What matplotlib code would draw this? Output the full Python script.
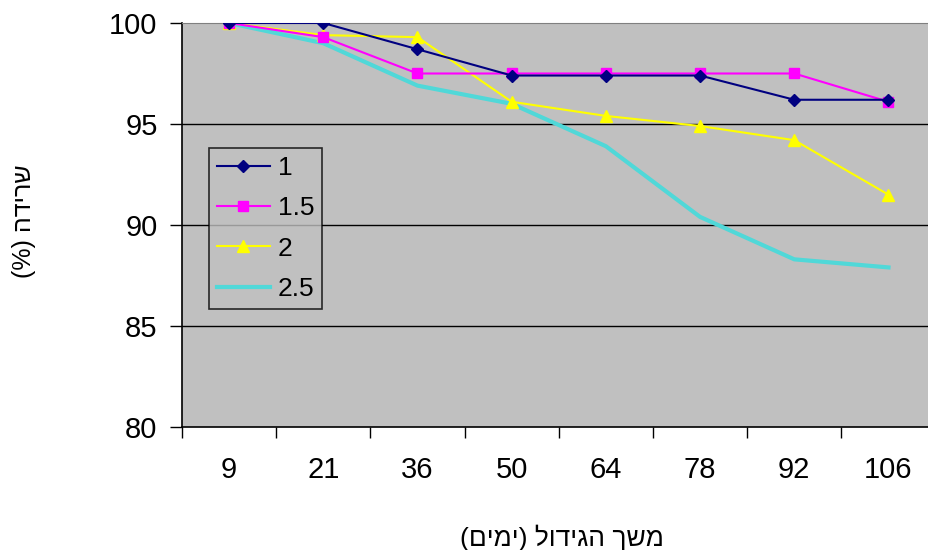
import matplotlib.pyplot as plt

plt.rcParams['font.family'] = ['Liberation Sans', 'DejaVu Sans']

# נתונים
days = ['9', '21', '36', '50', '64', '78', '92', '106']
s1 = [100, 100, 98.7, 97.4, 97.4, 97.4, 96.2, 96.2]
s15 = [100, 99.3, 97.5, 97.5, 97.5, 97.5, 97.5, 96.1]
s2 = [100, 99.4, 99.3, 96.1, 95.4, 94.9, 94.2, 91.5]
s25 = [100, 99.0, 96.9, 96.0, 93.9, 90.4, 88.3, 87.9]
series_names = ['1', '1.5', '2', '2.5']

xlabel = 'משך הגידול (ימים)'
ylabel = 'שרידה (%)'


def rtl(s):
    # matplotlib has no bidi support, so flip the string by hand
    out = s[::-1]
    return out.translate(str.maketrans('()', ')('))


fig = plt.figure(figsize=(9.29, 5.5), dpi=100)
ax = fig.add_axes([182 / 929, 1 - 427 / 550, 1 - 182 / 929, (427 - 23) / 550])
ax.set_facecolor('#C0C0C0')

x = list(range(len(days)))
ax.plot(x, s1, color='#000080', marker='D', ms=6, lw=1.5, label=series_names[0], zorder=5)
ax.plot(x, s15, color='#FF00FF', marker='s', ms=7, lw=1.5, label=series_names[1], zorder=4)
ax.plot(x, s2, color='#FFFF00', marker='^', ms=9, lw=1.5, label=series_names[2], zorder=3)
ax.plot(x, s25, color='#50D8D8', lw=3, label=series_names[3], zorder=2)

for v in [85, 90, 95]:
    ax.axhline(v, color='black', lw=1, zorder=1)

ax.set_ylim(80, 100)
ax.set_xlim(-0.5, 7.43)
ax.set_yticks([80, 85, 90, 95, 100])
ax.tick_params(axis='y', direction='out', length=8.6, width=1, pad=9, labelsize=21)

# tick marks between categories, labels at categories
ax.set_xticks([i - 0.5 for i in range(len(days))])
ax.set_xticklabels([])
ax.set_xticks(x, minor=True)
ax.set_xticklabels(days, minor=True, fontsize=21)
ax.tick_params(axis='x', which='major', direction='out', length=8, width=1)
ax.tick_params(axis='x', which='minor', length=0, pad=21)

ax.spines['top'].set_color('#808080')
ax.spines['right'].set_visible(False)
for s in ['left', 'bottom']:
    ax.spines[s].set_linewidth(1.2)

fig.text(562 / 929, 1 - 538 / 550, rtl(xlabel), ha='center', va='center', fontsize=19)
fig.text(24 / 929, 1 - 221 / 550, rtl(ylabel), ha='center', va='center', fontsize=18, rotation=90)

leg = ax.legend(loc='upper left', bbox_to_anchor=(27 / 747, (427 - 148) / 404),
                fontsize=19, frameon=True, fancybox=False, facecolor='#C0C0C0',
                edgecolor='black', handlelength=2.0, labelspacing=0.62,
                borderpad=0.3, handletextpad=0.3, borderaxespad=0)
leg.get_frame().set_linewidth(1.2)

fig.savefig('out.png', dpi=100)
